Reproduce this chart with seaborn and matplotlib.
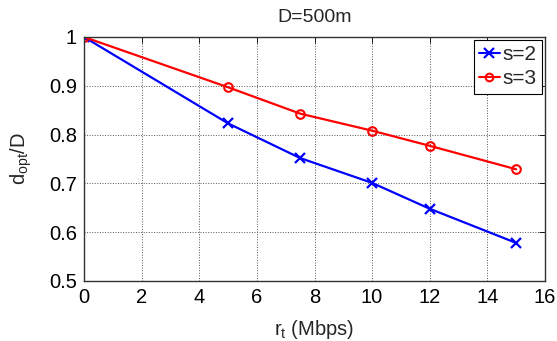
import matplotlib
matplotlib.use("Agg")
import matplotlib.pyplot as plt
import seaborn as sns
from matplotlib.lines import Line2D

# data
rate = [0, 5, 7.5, 10, 12, 15]
s2_vals = [1.0, 0.823, 0.752, 0.701, 0.648, 0.578]
s3_vals = [1.0, 0.897, 0.843, 0.808, 0.777, 0.729]
x_ticks = [0, 2, 4, 6, 8, 10, 12, 14, 16]
y_ticks = [0.5, 0.6, 0.7, 0.8, 0.9, 1.0]
y_labels = ["0.5", "0.6", "0.7", "0.8", "0.9", "1"]
series_names = ["s=2", "s=3"]

sns.set_theme(style="white")
plt.rcParams['font.family'] = ['Liberation Sans', 'DejaVu Sans']
plt.rcParams['mathtext.fontset'] = 'custom'
plt.rcParams['mathtext.rm'] = 'Liberation Sans'

fig = plt.figure(figsize=(5.57, 3.41), dpi=100)
# axes box: x 84..545 px, y 37..281 px
ax = fig.add_axes([84 / 557, 1 - 281 / 341, 461 / 557, 244 / 341])

sns.lineplot(x=rate, y=s2_vals, color="#0000ff", marker="x",
             markeredgecolor="#0000ff", linewidth=1.6, markersize=7,
             markeredgewidth=1.6, ax=ax)
sns.lineplot(x=rate, y=s3_vals, color="#ff0000", marker="o",
             markerfacecolor="none", markeredgecolor="#ff0000",
             linewidth=1.6, markersize=6.2, markeredgewidth=1.5, ax=ax)

ax.set_xlim(0, 16)
ax.set_ylim(0.5, 1.0)
ax.set_xticks(x_ticks)
ax.set_yticks(y_ticks)
ax.set_yticklabels(y_labels)
ax.tick_params(direction="in", top=True, right=True, length=4, width=0.6,
               labelsize=14.5, colors="black", pad=5)
ax.grid(True, linestyle=":", color="#555555", linewidth=0.7)
for sp in ax.spines.values():
    sp.set_color("#333333")
    sp.set_linewidth(1.0)

ax.set_xlabel(r"r$_\mathregular{t}$ (Mbps)", fontsize=14.5, labelpad=8)
ax.set_ylabel(r"d$_\mathregular{opt}$/D", fontsize=14.5, labelpad=11)
ax.set_title("D=500m", fontsize=14, pad=11)

handles = [Line2D([], [], color="#0000ff", marker="x", lw=1.5, ms=7, mew=1.6),
           Line2D([], [], color="#ff0000", marker="o", mfc="none", lw=1.5, ms=5.5, mew=1.5)]
leg = ax.legend(handles, series_names, loc="upper right",
                bbox_to_anchor=(542 / 557, 1 - 40 / 341),
                bbox_transform=fig.transFigure, fontsize=15,
                frameon=True, fancybox=False, edgecolor="black",
                handlelength=1.0, handletextpad=0.15, borderpad=0.25,
                labelspacing=0.25, borderaxespad=0)
leg.get_frame().set_linewidth(0.8)
leg.get_frame().set_alpha(1)

fig.savefig("out.png", dpi=100)
